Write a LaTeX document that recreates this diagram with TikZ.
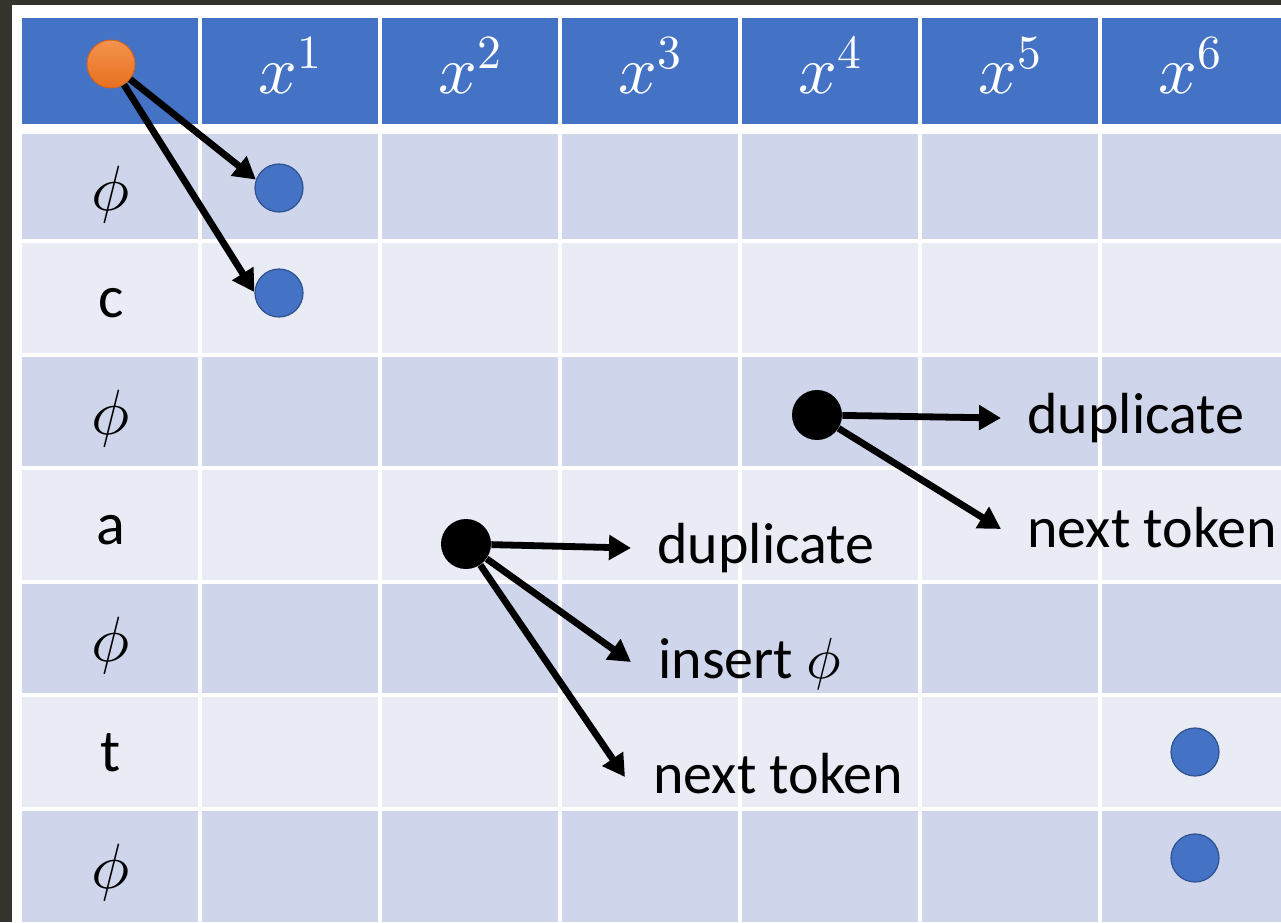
\documentclass[tikz,border=0pt]{standalone}
\usepackage{fontspec}
\usepackage{unicode-math}
\setmainfont{Carlito}
\setmathfont{Latin Modern Math}
\usetikzlibrary{arrows.meta}

\definecolor{frame}{HTML}{34332C}
\definecolor{hdr}{HTML}{4472C4}
\definecolor{rowA}{HTML}{CFD5EA}
\definecolor{rowB}{HTML}{E9EBF5}
\definecolor{dotblue}{HTML}{4472C4}
\definecolor{dotrim}{HTML}{2F528F}
\definecolor{orangeA}{HTML}{F4924F}
\definecolor{orangeB}{HTML}{E8701F}
\definecolor{orangeRim}{HTML}{D0651C}

\tikzset{
  lbl/.style={font=\fontsize{29}{34}\selectfont, inner sep=0pt, anchor=base west},
  rowtxt/.style={font=\fontsize{30}{35}\selectfont, inner sep=0pt, anchor=base},
  rowsym/.style={font=\fontsize{32}{37}\selectfont, inner sep=0pt, anchor=center},
  collbl/.style={font=\fontsize{34}{40}\selectfont, text=white, inner sep=0pt, anchor=base},
  bluedot/.style={circle, minimum size=24pt, inner sep=0pt, fill=dotblue, draw=dotrim, line width=0.6pt},
  blackdot/.style={circle, minimum size=25pt, inner sep=0pt, fill=black},
  startdot/.style={circle, minimum size=24pt, inner sep=0pt, top color=orangeA, bottom color=orangeB, draw=orangeRim, line width=0.5pt},
  move/.style={line width=3.4pt, -{Triangle[length=11pt,width=12pt]}},
  gridline/.style={white, line width=1.6pt},
}

\begin{document}
\begin{tikzpicture}[x=0.5pt,y=-0.5pt]
\useasboundingbox (0,0) rectangle (1281,922);

% frame and table background
\fill[frame] (0,0) rectangle (1281,922);
\fill[white] (12,5) rectangle (1281,922);
\fill[hdr] (22,18) rectangle (1281,124);
\foreach \t/\b/\c in {134/241/rowA, 241/355/rowB, 355/468/rowA, 468/582/rowB,
                      582/695/rowA, 695/809/rowB, 809/922/rowA}
  \fill[\c] (22,\t) rectangle (1281,\b);

% cell separators
\foreach \x in {200,380,560,740,920,1100}
  \draw[gridline] (\x,18) -- (\x,922);
\foreach \y in {241,355,468,582,695,809}
  \draw[gridline] (22,\y) -- (1281,\y);

% column headers
\foreach \i in {1,...,6}
  \node[collbl] (h\i) at ({110+180*\i},93) {$x^{\i}$};

% row labels
\node[rowsym] (r1) at (111,195) {$\phi$};
\node[rowtxt] (r2) at (111,317) {c};
\node[rowsym] (r3) at (111,419) {$\phi$};
\node[rowtxt] (r4) at (111,544) {a};
\node[rowsym] (r5) at (111,646) {$\phi$};
\node[rowtxt] (r6) at (111,771) {t};
\node[rowsym] (r7) at (111,873) {$\phi$};

% states
\node[startdot] (start) at (111,64) {};
\node[bluedot] (b1) at (279,188) {};
\node[bluedot] (b2) at (279,293) {};
\node[bluedot] (b3) at (1195,752) {};
\node[bluedot] (b4) at (1195,858) {};
\node[blackdot] (k1) at (466,544) {};
\node[blackdot] (k2) at (817,415) {};

% action labels
\node[lbl] (k1dup) at (657,563) {duplicate};
\node[lbl] (k1ins) at (658,678) {insert $\phi$};
\node[lbl] (k1nxt) at (653,793) {next token};
\node[lbl] (k2dup) at (1027,433) {duplicate};
\node[lbl] (k2nxt) at (1027,547) {next token};

% arrow ends in front of the labels
\coordinate (e1dup) at (631,548);
\coordinate (e1ins) at (631,662);
\coordinate (e1nxt) at (625,777);
\coordinate (e2dup) at (1001,418);
\coordinate (e2nxt) at (1001,529);

% transitions
\draw[move] (start) -- (b1.160);
\draw[move] (start) -- (b2.178);
\draw[move] (k1) -- (e1dup);
\draw[move] (k1) -- (e1ins);
\draw[move] (k1) -- (e1nxt);
\draw[move] (k2) -- (e2dup);
\draw[move] (k2) -- (e2nxt);
\end{tikzpicture}
\end{document}
